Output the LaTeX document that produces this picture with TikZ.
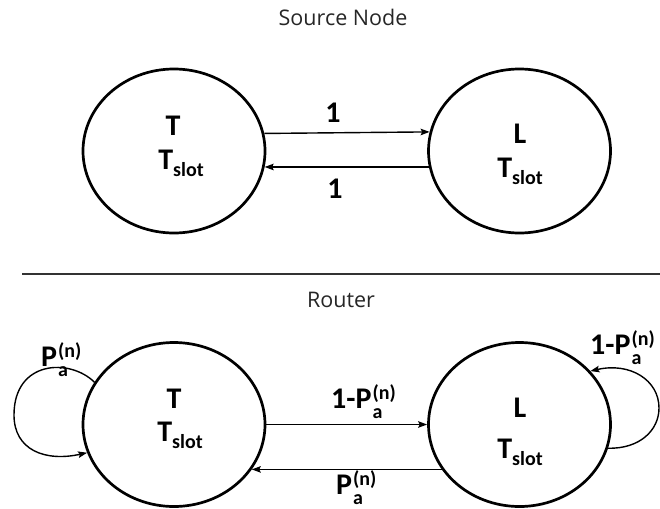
\documentclass[tikz,border=0pt]{standalone}
\usepackage{fontspec}
\setmainfont{Carlito}
\newfontfamily\titlefont{Open Sans}
\usetikzlibrary{shapes.geometric,arrows.meta}

% T with "slot" subscript, and P with "a" subscript and "(n)" superscript
\newcommand{\Tsl}{T\raisebox{-7pt}{\fontsize{20}{20}\selectfont slot}}
\newcommand{\Pan}{P\kern1pt\rlap{\raisebox{-10pt}{\fontsize{20}{20}\selectfont a}}\raisebox{8.5pt}{\fontsize{20}{20}\selectfont (n)}}

\tikzset{
  state/.style={draw, line width=2.7pt, ellipse, minimum width=182pt, minimum height=164pt, inner sep=0pt},
  txt/.style={font=\fontsize{30}{30}\selectfont\bfseries, inner sep=0pt, anchor=base},
  lbl/.style={font=\fontsize{30}{30}\selectfont\bfseries, inner sep=0pt, anchor=base west},
  ttl/.style={font=\titlefont\fontsize{21.5}{21.5}\selectfont, text=black!85, inner sep=0pt, anchor=base},
  arr/.style={line width=1.4pt, -{Stealth[length=9pt,width=6.5pt,inset=1.5pt]}},
}

\begin{document}
\begin{tikzpicture}[x=1pt,y=-1pt]
\useasboundingbox (0,0) rectangle (660,508);

% Source node: transmit and listen states
\node[ttl] (t1) at (343,26) {Source Node};
\node[state] (TL) at (174,151) {};
\node[state] (TR) at (519.5,151) {};
\node[txt] (tl1) at (173,135) {T};
\node[txt] (tl2) at (181,169) {\Tsl};
\node[txt] (tr1) at (520,143) {L};
\node[txt] (tr2) at (520,177) {\Tsl};
\draw[arr] (TL.11.5) -- (TR.168.5);
\draw[arr] (TR.190.8) -- (TL.-10.8);
\node[txt] (a1) at (333,122) {1};
\node[txt] (a2) at (335,198) {1};

% divider
\coordinate (d1) at (22,274);
\coordinate (d2) at (660,274);
\draw[line width=1.2pt, black!80] (d1) -- (d2);

% Router: transmit and listen states
\node[ttl] (t2) at (341,307) {Router};
\node[state] (BL) at (174,424.5) {};
\node[state] (BR) at (519.5,424.5) {};
\node[txt] (bl1) at (174,408) {T};
\node[txt] (bl2) at (180,441) {\Tsl};
\node[txt] (br1) at (520,417) {L};
\node[txt] (br2) at (520,458) {\Tsl};
\draw[arr] (BL.east) -- (BR.west);
\draw[arr] (BR.210.2) -- (BL.-30.2);
\node[lbl] (b1) at (331,408) {1-\Pan};
\node[lbl] (b2) at (336,494) {\Pan};

% self loops
\draw[arr] (BL.152) .. controls (70,358) and (14,360) .. (14,415)
           .. controls (14,450) and (45,462) .. (BL.198);
\node[lbl] (b3) at (41,366) {\Pan};
\draw[arr] (BR.-15) .. controls (640,449) and (659,430) .. (659,408)
           .. controls (659,380) and (630,362) .. (BR.37);
\node[lbl] (b4) at (590,354) {1-\Pan};
\end{tikzpicture}
\end{document}
